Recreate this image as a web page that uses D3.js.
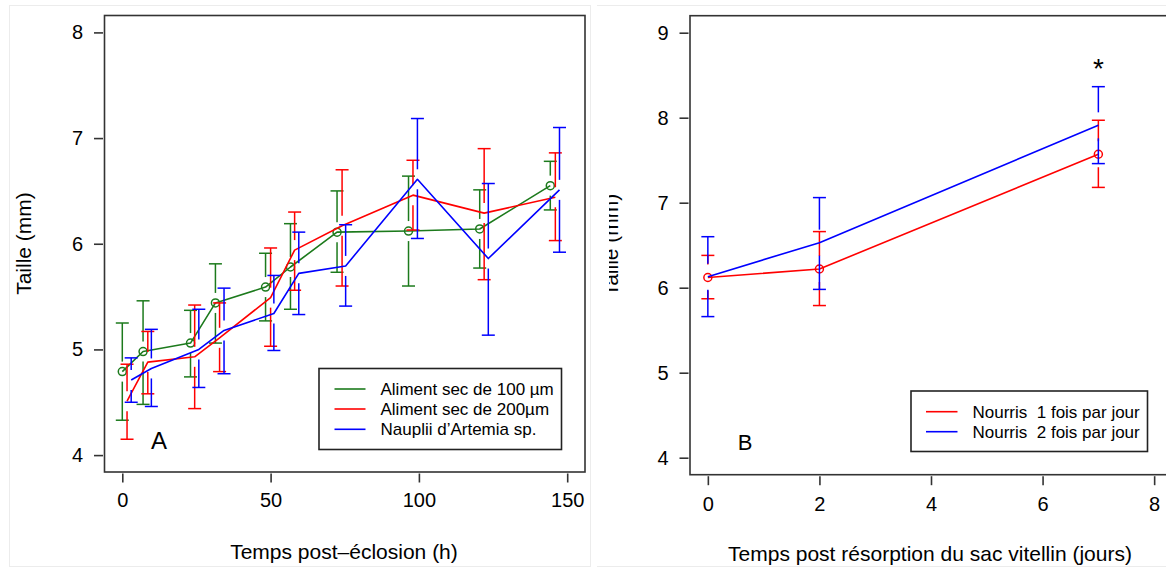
<!DOCTYPE html>
<html><head><meta charset="utf-8">
<script src="https://cdn.jsdelivr.net/npm/d3@7"></script>
<style>
html,body{margin:0;padding:0;background:#fff;}
svg text{font-family:"Liberation Sans",Arial,Helvetica,sans-serif;fill:#000;white-space:pre;}
</style></head>
<body><svg id="c" width="1166" height="569"></svg>
<script>
// ---------- Panel A data ----------
const aXTicks = [0, 50, 100, 150];
const aYTicks = [4, 5, 6, 7, 8];
const aLegend = ["Aliment sec de 100 \u00b5m", "Aliment sec de 200\u00b5m", "Nauplii d\u2019Artemia sp."];
const greenT  = [0, 7, 23, 31.4, 48.3, 56.7, 72.4, 96.5, 120.5, 144.3];
const greenM  = [4.79, 4.98, 5.06, 5.44, 5.59, 5.78, 6.11, 6.12, 6.14, 6.55];
const greenHi = [5.25, 5.46, 5.37, 5.81, 5.91, 6.19, 6.50, 6.64, 6.51, 6.78];
const greenLo = [4.33, 4.48, 4.74, 5.06, 5.27, 5.38, 5.73, 5.60, 5.77, 6.32];
const redT    = [1.6, 8.6, 24.4, 32.8, 50, 58.1, 74.1, 98, 122, 146];
const redM    = [4.51, 4.88, 4.93, 5.11, 5.49, 5.94, 6.17, 6.46, 6.29, 6.44];
const redHi   = [4.86, 5.17, 5.42, 5.44, 5.96, 6.30, 6.70, 6.79, 6.90, 6.86];
const redLo   = [4.15, 4.58, 4.44, 4.79, 5.03, 5.56, 5.60, 6.13, 5.66, 6.03];
const blueT   = [3, 9.8, 25.8, 34.3, 51.1, 59.5, 75.3, 99.5, 123.4, 147.4];
const blueM   = [4.71, 4.82, 5.00, 5.18, 5.34, 5.72, 5.79, 6.61, 5.86, 6.51];
const blueHi  = [4.92, 5.19, 5.38, 5.58, 5.70, 6.11, 6.18, 7.185, 6.57, 7.10];
const blueLo  = [4.50, 4.46, 4.64, 4.77, 4.99, 5.33, 5.41, 6.05, 5.135, 5.92];

// ---------- Panel B data ----------
const bXTicks = [0, 2, 4, 6, 8];
const bYTicks = [4, 5, 6, 7, 8, 9];
const bLegend = ["Nourris  1 fois par jour", "Nourris  2 fois par jour"];
const bDays   = [0, 2, 7];
const b1M  = [6.12, 6.22, 7.57];
const b1Hi = [6.38, 6.66, 7.97];
const b1Lo = [5.87, 5.79, 7.18];
const b2M  = [6.13, 6.53, 7.91];
const b2Hi = [6.60, 7.06, 8.365];
const b2Lo = [5.66, 5.98, 7.46];

const GREEN = "#1c7a1c", RED = "#ff0000", BLUE = "#0000ff", FRAME = "#333";
const svg = d3.select("#c");

// faint photo borders
svg.append("rect").attr("x", 9.5).attr("y", 5.5).attr("width", 581).attr("height", 561)
  .attr("fill", "none").attr("stroke", "#ececec");
svg.append("line").attr("x1", 597).attr("x2", 1166).attr("y1", 5.5).attr("y2", 5.5).attr("stroke", "#ececec");
svg.append("line").attr("x1", 597).attr("x2", 1166).attr("y1", 566.5).attr("y2", 566.5).attr("stroke", "#ececec");

function panel(cfg) {
  const g = svg.append("g");
  const x = d3.scaleLinear().domain(cfg.xdom).range([cfg.L, cfg.R]);
  const y = d3.scaleLinear().domain(cfg.ydom).range([cfg.B, cfg.T]);
  g.append("rect").attr("x", cfg.L).attr("y", cfg.T).attr("width", cfg.R - cfg.L).attr("height", cfg.B - cfg.T)
    .attr("fill", "none").attr("stroke", FRAME).attr("stroke-width", 1.6);
  const ax = g.append("g").attr("transform", `translate(0,${cfg.B + 1.5})`)
    .call(d3.axisBottom(x).tickValues(cfg.xticks).tickSize(9).tickSizeOuter(0).tickPadding(cfg.xpad).tickFormat(d3.format("d")));
  ax.select(".domain").remove();
  ax.selectAll("line").attr("stroke", FRAME).attr("stroke-width", 1.6);
  ax.selectAll("text").attr("font-size", 20).attr("font-family", "Liberation Sans, Arial, sans-serif").attr("fill", "#000");
  const ay = g.append("g").attr("transform", `translate(${cfg.L - 1.5},0)`)
    .call(d3.axisLeft(y).tickValues(cfg.yticks).tickSize(9).tickSizeOuter(0).tickPadding(11).tickFormat(d3.format("d")));
  ay.select(".domain").remove();
  ay.selectAll("line").attr("stroke", FRAME).attr("stroke-width", 1.6);
  ay.selectAll("text").attr("font-size", 20).attr("font-family", "Liberation Sans, Arial, sans-serif").attr("fill", "#000");
  return {g, x, y};
}

function errBars(P, ts, m, hi, lo, color, gap, cap) {
  ts.forEach((t, i) => {
    const px = P.x(t), pm = P.y(m[i]), ph = P.y(hi[i]), pl = P.y(lo[i]);
    if (pm - gap > ph) P.g.append("line").attr("x1", px).attr("x2", px).attr("y1", ph).attr("y2", pm - gap)
      .attr("stroke", color).attr("stroke-width", 1.5);
    if (pm + gap < pl) P.g.append("line").attr("x1", px).attr("x2", px).attr("y1", pm + gap).attr("y2", pl)
      .attr("stroke", color).attr("stroke-width", 1.5);
    [ph, pl].forEach(v => P.g.append("line").attr("x1", px - cap).attr("x2", px + cap).attr("y1", v).attr("y2", v)
      .attr("stroke", color).attr("stroke-width", 1.5));
  });
}
function seriesLine(P, ts, m, color) {
  const line = d3.line().x(d => P.x(d[0])).y(d => P.y(d[1]));
  P.g.append("path").attr("d", line(ts.map((t, i) => [t, m[i]]))).attr("fill", "none")
    .attr("stroke", color).attr("stroke-width", 1.6).attr("stroke-linejoin", "round");
}
function circles(P, ts, m, color) {
  ts.forEach((t, i) => P.g.append("circle").attr("cx", P.x(t)).attr("cy", P.y(m[i])).attr("r", 4)
    .attr("fill", "none").attr("stroke", color).attr("stroke-width", 1.5));
}
function legend(P, box, labels, colors, lx1, lx2, tx, ys) {
  P.g.append("rect").attr("x", box[0]).attr("y", box[1]).attr("width", box[2] - box[0]).attr("height", box[3] - box[1])
    .attr("fill", "#fff").attr("stroke", "#222").attr("stroke-width", 1.6);
  labels.forEach((lab, i) => {
    P.g.append("line").attr("x1", lx1).attr("x2", lx2).attr("y1", ys[i]).attr("y2", ys[i])
      .attr("stroke", colors[i]).attr("stroke-width", 1.6);
    P.g.append("text").attr("x", tx).attr("y", ys[i] + 6).attr("font-size", 17).text(lab);
  });
}

// ---------- Panel A ----------
const A = panel({L: 104.5, R: 585, T: 15.5, B: 472, xdom: [-6, 156], ydom: [3.84, 8.16],
  xticks: aXTicks, yticks: aYTicks, xpad: 10});
errBars(A, greenT, greenM, greenHi, greenLo, GREEN, 10, 6.5);
seriesLine(A, greenT, greenM, GREEN);
circles(A, greenT, greenM, GREEN);
errBars(A, redT, redM, redHi, redLo, RED, 10, 6.5);
seriesLine(A, redT, redM, RED);
errBars(A, blueT, blueM, blueHi, blueLo, BLUE, 10, 6.5);
seriesLine(A, blueT, blueM, BLUE);
legend(A, [319, 368.5, 561.5, 449.5], aLegend, [GREEN, RED, BLUE], 334.5, 365.5, 380.5, [389, 409, 429.3]);
A.g.append("text").attr("x", 159).attr("y", 448.5).attr("text-anchor", "middle").attr("font-size", 24).text("A");
A.g.append("text").attr("x", 344).attr("y", 559).attr("text-anchor", "middle").attr("font-size", 21).text("Temps post\u2013\u00e9closion (h)");
A.g.append("text").attr("transform", "translate(31,243.5) rotate(-90)").attr("text-anchor", "middle").attr("font-size", 21).text("Taille (mm)");

// ---------- Panel B ----------
const Bp = panel({L: 690, R: 1172, T: 15.7, B: 474.7, xdom: [-0.32, 8.32], ydom: [3.8, 9.2],
  xticks: bXTicks, yticks: bYTicks, xpad: 12});
errBars(Bp, bDays, b1M, b1Hi, b1Lo, RED, 13, 6.5);
seriesLine(Bp, bDays, b1M, RED);
circles(Bp, bDays, b1M, RED);
errBars(Bp, bDays, b2M, b2Hi, b2Lo, BLUE, 13, 6.5);
seriesLine(Bp, bDays, b2M, BLUE);
legend(Bp, [911, 391, 1147.5, 451.5], bLegend, [RED, BLUE], 926, 957.5, 972.5, [411.7, 431.7]);
Bp.g.append("text").attr("x", 745).attr("y", 450).attr("text-anchor", "middle").attr("font-size", 22).text("B");
Bp.g.append("text").attr("x", Bp.x(7)).attr("y", 78).attr("text-anchor", "middle").attr("font-size", 28).text("*");
Bp.g.append("text").attr("x", 930).attr("y", 561).attr("text-anchor", "middle").attr("font-size", 21).text("Temps post r\u00e9sorption du sac vitellin (jours)");
// clipped y-title of panel B (clip in page coordinates via wrapper group)
svg.append("clipPath").attr("id", "clipB").append("rect").attr("x", 609).attr("y", 0).attr("width", 60).attr("height", 569);
svg.append("g").attr("clip-path", "url(#clipB)")
  .append("text").attr("transform", "translate(618,245) rotate(-90)")
  .attr("text-anchor", "middle").attr("font-size", 21).text("Taille (mm)");
</script></body></html>
